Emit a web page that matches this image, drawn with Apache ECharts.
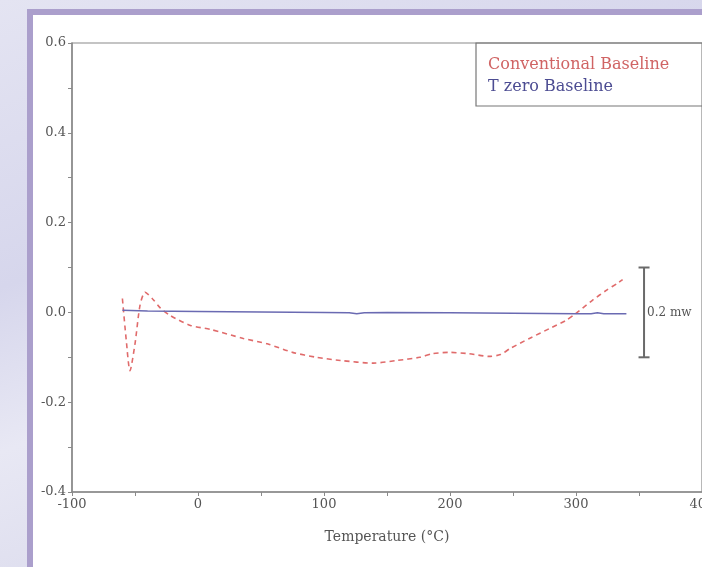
<!DOCTYPE html>
<html>
<head>
<meta charset="utf-8">
<script src="https://cdn.jsdelivr.net/npm/echarts@6/dist/echarts.min.js"></script>
<style>
  html, body { margin: 0; padding: 0; }
  body {
    width: 702px; height: 567px; overflow: hidden; position: relative;
    background: linear-gradient(160deg, #e4e4f2 0%, #d6d6ec 35%, #e8e8f4 55%, #cfcfe6 100%);
  }
  .panel {
    position: absolute; left: 27px; top: 9px; width: 700px; height: 600px;
    background: #fff; border: 6px solid #ab9fcc; box-sizing: border-box;
  }
  #chart { position: absolute; left: 0; top: 0; width: 702px; height: 567px; }
</style>
</head>
<body>
<div class="panel"></div>
<div id="chart"></div>
<script>
// Conventional Baseline (red dashed)
const convTemp = [-60, -57, -54, -50, -46, -42, -36, -30, -22, -6, 10, 36, 55, 75, 94, 113, 139, 158, 176, 186, 199, 215, 231, 240, 248, 263, 279, 292, 300, 313, 324, 333, 337]
const convVal = [0.031, -0.06, -0.13, -0.07, 0.016, 0.045, 0.03, 0.01, -0.007, -0.029, -0.038, -0.058, -0.07, -0.089, -0.1, -0.107, -0.113, -0.107, -0.1, -0.092, -0.089, -0.092, -0.098, -0.094, -0.08, -0.058, -0.036, -0.018, -0.002, 0.027, 0.049, 0.065, 0.073]

// T zero Baseline (blue solid)
const tzeroTemp = [-60, -40, 0, 50, 100, 120, 126, 132, 150, 200, 250, 300, 312, 317, 322, 340]
const tzeroVal = [0.005, 0.003, 0.002, 0.001, 0.0, -0.001, -0.003, -0.001, 0.0, -0.001, -0.002, -0.003, -0.003, -0.001, -0.003, -0.003]

// scale bar: 0.2 mw
const barTemp = 354
const barVals = [0.1, 0, -0.1]

const xTicks = { min: -100, max: 400, interval: 100 }
const yTicks = { min: -0.4, max: 0.6, interval: 0.2 }

const serif = 'DejaVu Serif'
const pair = (xs, ys) => xs.map((x, i) => [x, ys[i]])

const chart = echarts.init(document.getElementById('chart'))
const option = {
    backgroundColor: 'transparent',
    animation: false,
    grid: {
        left: 72, right: 0, top: 43, bottom: 75,
        containLabel: false,
        outerBoundsMode: 'none',
        show: true, borderColor: '#8a8a8a', borderWidth: 1.2
    },
    legend: {
        left: 476, top: 43,
        orient: 'vertical',
        selectedMode: false,
        itemWidth: 0, itemHeight: 0, itemGap: 6,
        padding: [14, 60, 11, 6],
        borderColor: '#777', borderWidth: 1.2,
        textStyle: { fontFamily: serif, fontSize: 16 },
        data: [
            { name: 'Conventional Baseline', textStyle: { color: '#d06464' } },
            { name: 'T zero Baseline', textStyle: { color: '#4c4c92' } }
        ]
    },
    xAxis: {
        type: 'value',
        min: xTicks.min, max: xTicks.max, interval: xTicks.interval,
        name: 'Temperature (°C)',
        nameLocation: 'middle', nameGap: 38,
        nameTextStyle: { fontFamily: serif, fontSize: 14, color: '#555' },
        axisLine: { onZero: false, lineStyle: { color: '#8a8a8a', width: 1.5 } },
        axisTick: { length: 4, lineStyle: { color: '#8a8a8a' } },
        minorTick: { show: true, splitNumber: 2, length: 4, lineStyle: { color: '#8a8a8a' } },
        splitLine: { show: false },
        axisLabel: { fontFamily: serif, fontSize: 13, color: '#555', margin: 6, showMaxLabel: true }
    },
    yAxis: {
        type: 'value',
        min: yTicks.min, max: yTicks.max, interval: yTicks.interval,
        axisLine: { onZero: false, lineStyle: { color: '#8a8a8a', width: 1.5 } },
        axisTick: { length: 4, lineStyle: { color: '#8a8a8a' } },
        minorTick: { show: true, splitNumber: 2, length: 4, lineStyle: { color: '#8a8a8a' } },
        splitLine: { show: false },
        axisLabel: {
            fontFamily: serif, fontSize: 13, color: '#555', margin: 6,
            formatter: v => v.toFixed(1)
        }
    },
    series: [
        {
            name: 'Conventional Baseline',
            type: 'line',
            data: pair(convTemp, convVal),
            smooth: 0.25,
            symbol: 'none',
            color: '#e06b6b',
            lineStyle: { color: '#e06b6b', width: 1.6, type: [5, 4] }
        },
        {
            name: 'T zero Baseline',
            type: 'line',
            data: pair(tzeroTemp, tzeroVal),
            symbol: 'none',
            color: '#6a6ab2',
            lineStyle: { color: '#6a6ab2', width: 1.5 }
        },
        {
            name: 'scale',
            type: 'line',
            data: barVals.map((v, i) => i === 1
                ? { value: [barTemp, v], symbolSize: 0,
                    label: { show: true, position: 'right', distance: 3, formatter: '0.2 mw',
                             fontFamily: serif, fontSize: 12, color: '#555' } }
                : { value: [barTemp, v] }),
            symbol: 'rect',
            symbolSize: [11, 2],
            showSymbol: true,
            showAllSymbol: true,
            color: '#6a6a6a',
            lineStyle: { color: '#6a6a6a', width: 2 },
            silent: true
        }
    ]
}
chart.setOption(option)
</script>
</body>
</html>
